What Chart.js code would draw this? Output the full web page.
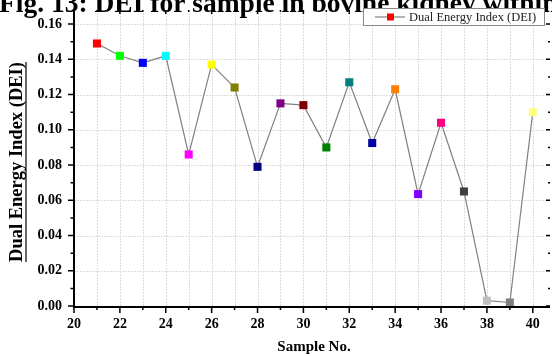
<!DOCTYPE html>
<html>
<head>
<meta charset="utf-8">
<script src="https://cdn.jsdelivr.net/npm/chart.js@4.4.1/dist/chart.umd.min.js"></script>
<style>
  html, body { margin: 0; padding: 0; background: #fff; }
  #wrap { width: 552px; height: 356px; position: relative; }
</style>
</head>
<body>
<div id="wrap"><canvas id="c" width="552" height="356"></canvas></div>
<script>
const samples = [21, 22, 23, 24, 25, 26, 27, 28, 29, 30, 31, 32, 33, 34, 35, 36, 37, 38, 39, 40];
const dei = [0.149, 0.142, 0.138, 0.142, 0.086, 0.137, 0.124, 0.079, 0.115, 0.114,
             0.090, 0.127, 0.0925, 0.123, 0.0635, 0.104, 0.065, 0.003, 0.002, 0.110];
const markerColors = ['#ff0000', '#00ff00', '#0000ff', '#00ffff', '#ff00ff', '#ffff00', '#808000', '#000080',
                      '#800080', '#800000', '#008000', '#008080', '#0000a0', '#ff8000', '#8000ff', '#ff0080',
                      '#404040', '#c0c0c0', '#808080', '#ffff80'];
const seriesLabel = 'Dual Energy Index (DEI)';
const chartTitle = 'Fig. 13: DEI for sample in bovine kidney within';
const xTitle = 'Sample No.';
const yTitle = 'Dual Energy Index (DEI)';

const SERIF = '"Liberation Serif", "Times New Roman", serif';

const frame = {
  id: 'frame',
  beforeDatasetsDraw(chart) {
    const { ctx, chartArea: a, scales: { x, y } } = chart;
    ctx.save();
    ctx.strokeStyle = '#dcdcdc';
    ctx.lineWidth = 1;
    ctx.setLineDash([2, 1]);
    for (let v = Math.ceil(x.min) + 1; v <= x.max; v++) {
      const px = Math.round(x.getPixelForValue(v)) + 0.5;
      ctx.beginPath(); ctx.moveTo(px, a.top); ctx.lineTo(px, a.bottom); ctx.stroke();
    }
    y.ticks.forEach(t => {
      if (t.value === 0) return;
      const py = Math.round(y.getPixelForValue(t.value)) + 0.5;
      ctx.beginPath(); ctx.moveTo(a.left, py); ctx.lineTo(a.right, py); ctx.stroke();
    });
    ctx.restore();
  },
  afterDraw(chart) {
    const { ctx, chartArea: a, scales: { x, y } } = chart;
    ctx.save();
    // axis lines
    ctx.strokeStyle = '#000';
    ctx.lineWidth = 2;
    ctx.beginPath();
    ctx.moveTo(a.left, a.top); ctx.lineTo(a.left, a.bottom + 1); ctx.lineTo(a.right, a.bottom + 1);
    ctx.stroke();
    // ticks
    ctx.lineWidth = 1.5;
    for (let v = Math.ceil(x.min); v <= x.max; v++) {
      const px = x.getPixelForValue(v);
      const major = v % 2 === 0;
      ctx.beginPath();
      ctx.moveTo(px, a.bottom); ctx.lineTo(px, a.bottom + (major ? 7 : 4));
      ctx.moveTo(px, a.top); ctx.lineTo(px, a.top + (major ? 4 : 2));
      ctx.stroke();
    }
    for (let v = 0; v <= y.max + 1e-9; v += 0.01) {
      const py = y.getPixelForValue(v);
      const major = Math.round(v * 100) % 2 === 0;
      ctx.beginPath();
      ctx.moveTo(a.left, py); ctx.lineTo(a.left - (major ? 6 : 3.5), py);
      ctx.moveTo(a.right, py); ctx.lineTo(a.right - (major ? 4 : 2), py);
      ctx.stroke();
    }
    // chart title, cut by the top edge
    ctx.fillStyle = '#000';
    ctx.font = 'bold 27.5px ' + SERIF;
    ctx.textBaseline = 'alphabetic';
    ctx.textAlign = 'left';
    ctx.fillText(chartTitle, -1, 11.5);
    // legend
    const lx = 363, ly = 8, lw = 181, lh = 17;
    ctx.fillStyle = '#fff';
    ctx.fillRect(lx, ly, lw, lh);
    ctx.strokeStyle = '#888';
    ctx.lineWidth = 1;
    ctx.strokeRect(lx + 0.5, ly + 0.5, lw, lh);
    ctx.strokeStyle = '#808080';
    ctx.lineWidth = 1.2;
    ctx.beginPath(); ctx.moveTo(375, ly + 9); ctx.lineTo(405, ly + 9); ctx.stroke();
    ctx.fillStyle = markerColors[0];
    ctx.fillRect(387, ly + 5.5, 7, 7);
    ctx.fillStyle = '#222';
    ctx.font = '12.5px ' + SERIF;
    ctx.textBaseline = 'middle';
    ctx.fillText(seriesLabel, 409, ly + 9.5);
    // x title
    ctx.fillStyle = '#000';
    ctx.font = 'bold 15px ' + SERIF;
    ctx.textAlign = 'center';
    ctx.fillText(xTitle, (a.left + a.right) / 2 + 2, 347);
    // y title, underlined
    ctx.translate(17, (a.top + a.bottom) / 2 + 4);
    ctx.rotate(-Math.PI / 2);
    ctx.font = 'bold 18.5px ' + SERIF;
    ctx.fillText(yTitle, 0, 0);
    const w = ctx.measureText(yTitle).width;
    ctx.lineWidth = 1.2;
    ctx.strokeStyle = '#000';
    ctx.beginPath(); ctx.moveTo(-w / 2, 9); ctx.lineTo(w / 2, 9); ctx.stroke();
    ctx.restore();
  }
};

new Chart(document.getElementById('c'), {
  type: 'line',
  data: {
    datasets: [{
      label: seriesLabel,
      data: samples.map((s, i) => ({ x: s, y: dei[i] })),
      borderColor: '#808080',
      borderWidth: 1.2,
      tension: 0,
      pointStyle: 'rect',
      pointRadius: 5.7,
      pointHoverRadius: 5.7,
      pointBorderWidth: 0,
      pointBackgroundColor: markerColors,
      pointBorderColor: markerColors
    }]
  },
  options: {
    responsive: false,
    animation: false,
    events: [],
    layout: { autoPadding: false, padding: { top: 10, right: 2, left: 0, bottom: 0 } },
    plugins: { legend: { display: false }, tooltip: { enabled: false }, title: { display: false } },
    scales: {
      x: {
        type: 'linear',
        min: 20,
        max: 40.75,
        afterFit(s) { s.height = 50; s.paddingLeft = 0; s.paddingRight = 0; },
        grid: { display: false, drawTicks: false },
        border: { display: false },
        ticks: {
          stepSize: 2,
          includeBounds: false,
          padding: 10,
          color: '#000',
          font: { family: SERIF, size: 14, weight: 'bold' }
        }
      },
      y: {
        min: 0,
        max: 0.168,
        afterFit(s) { s.width = 74; s.paddingTop = 0; s.paddingBottom = 0; },
        grid: { display: false, drawTicks: false },
        border: { display: false },
        ticks: {
          stepSize: 0.02,
          includeBounds: false,
          padding: 12,
          color: '#000',
          font: { family: SERIF, size: 14, weight: 'bold' },
          callback: v => v.toFixed(2)
        }
      }
    }
  },
  plugins: [frame]
});
</script>
</body>
</html>
